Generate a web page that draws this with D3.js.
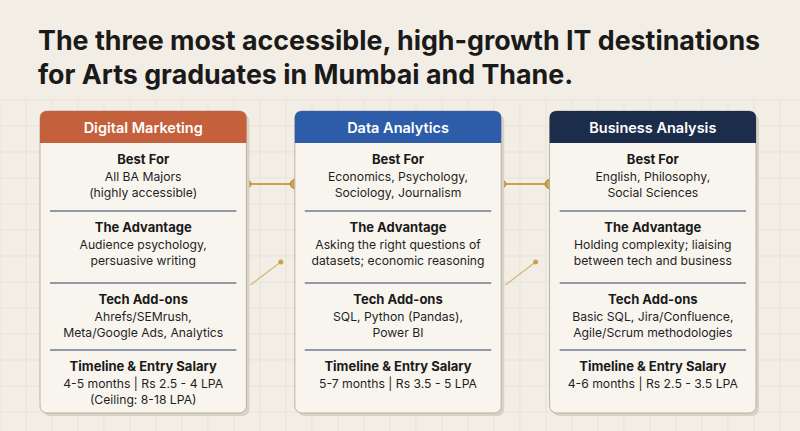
<!DOCTYPE html>
<html><head><meta charset="utf-8">
<script src="https://cdn.jsdelivr.net/npm/d3@7"></script>
<style>body{margin:0;background:#f2eee5;}svg{display:block;font-family:Inter,"Noto Sans",sans-serif;}</style>
</head><body>
<script>
// infographic data
const titleLines = ["The three most accessible, high-growth IT destinations", "for Arts graduates in Mumbai and Thane."];
const tracks = ["Digital Marketing", "Data Analytics", "Business Analysis"];
const headColors = ["#c4603c", "#2d5ca8", "#1c2c4b"];
const sections = ["Best For", "The Advantage", "Tech Add-ons", "Timeline & Entry Salary"];
const bodies = [
  [["All BA Majors", "(highly accessible)"], ["Audience psychology,", "persuasive writing"], ["Ahrefs/SEMrush,", "Meta/Google Ads, Analytics"], ["4-5 months | Rs 2.5 - 4 LPA", "(Ceiling: 8-18 LPA)"]],
  [["Economics, Psychology,", "Sociology, Journalism"], ["Asking the right questions of", "datasets; economic reasoning"], ["SQL, Python (Pandas),", "Power BI"], ["5-7 months | Rs 3.5 - 5 LPA"]],
  [["English, Philosophy,", "Social Sciences"], ["Holding complexity; liaising", "between tech and business"], ["Basic SQL, Jira/Confluence,", "Agile/Scrum methodologies"], ["4-6 months | Rs 2.5 - 3.5 LPA"]]
];

const width = 800, height = 431;
const svg = d3.select("body").append("svg").attr("width", width).attr("height", height);

// faint grid background
const grid = svg.append("g").attr("stroke", "#e9e3d7").attr("stroke-width", 1);
d3.range(0, width, 26).forEach(x => grid.append("line").attr("x1", x).attr("x2", x).attr("y1", 100).attr("y2", height));
d3.range(100, height, 26).forEach(y => grid.append("line").attr("x1", 0).attr("x2", width).attr("y1", y).attr("y2", y));

svg.selectAll(".title").data(titleLines).enter().append("text")
  .attr("x", 38).attr("y", (d, i) => 50 + i * 34)
  .attr("font-size", 26.8).attr("font-weight", 700).attr("fill", "#1a1a1a").text(d => d);

const x = d3.scaleBand().domain(tracks).range([40, 756]).paddingInner(0.19);
const cardTop = 111, headH = 32, cardBottom = 413;
const secY = d3.scaleOrdinal().domain(sections).range([143, 211, 283, 350]);

// connectors between cards
const conn = svg.append("g");
[[x(tracks[0]) + x.bandwidth(), x(tracks[1])], [x(tracks[1]) + x.bandwidth(), x(tracks[2])]].forEach(([a, b]) => {
  conn.append("line").attr("x1", a).attr("x2", b).attr("y1", 184).attr("y2", 184).attr("stroke", "#c9a24e").attr("stroke-width", 2);
  [a, b].forEach(cx => conn.append("circle").attr("cx", cx).attr("cy", 184).attr("r", 4.5).attr("fill", "#d1a445").attr("stroke", "#a9802e"));
  conn.append("line").attr("x1", a + 4).attr("x2", b - 14).attr("y1", 285).attr("y2", 262).attr("stroke", "#d4b57a").attr("stroke-width", 1.2);
  conn.append("circle").attr("cx", b - 14).attr("cy", 262).attr("r", 2.5).attr("fill", "#c9a24e");
});

const card = svg.selectAll(".card").data(tracks).enter().append("g").attr("class", "card")
  .attr("transform", d => `translate(${x(d)},0)`);
const w = x.bandwidth();

card.append("rect").attr("x", 3).attr("y", cardTop + 3).attr("width", w).attr("height", cardBottom - cardTop)
  .attr("rx", 7).attr("fill", "#d9d2c4");
card.append("rect").attr("y", cardTop).attr("width", w).attr("height", cardBottom - cardTop)
  .attr("rx", 7).attr("fill", "#f8f5ee").attr("stroke", "#b9b2a4");
card.append("path").attr("d", `M0,${cardTop + headH} V${cardTop + 7} Q0,${cardTop} 7,${cardTop} H${w - 7} Q${w},${cardTop} ${w},${cardTop + 7} V${cardTop + headH} Z`)
  .attr("fill", (d, i) => headColors[i]);
card.append("text").attr("x", w / 2).attr("y", cardTop + 22).attr("text-anchor", "middle")
  .attr("font-size", 14.5).attr("font-weight", 600).attr("fill", "#fff").text(d => d);

card.each(function(d, ci) {
  const g = d3.select(this);
  sections.forEach((s, si) => {
    const y0 = secY(s);
    if (si > 0) g.append("line").attr("x1", 10).attr("x2", w - 10).attr("y1", y0).attr("y2", y0)
      .attr("stroke", "#6f7c90").attr("stroke-width", 1.3);
    g.append("text").attr("x", w / 2).attr("y", y0 + 21).attr("text-anchor", "middle")
      .attr("font-size", 13).attr("font-weight", 700).attr("fill", "#1a1a1a").text(s);
    g.selectAll(null).data(bodies[ci][si]).enter().append("text")
      .attr("x", w / 2).attr("y", (t, k) => y0 + 38 + k * 15.5).attr("text-anchor", "middle")
      .attr("font-size", 12.2).attr("fill", "#1f1f1f").text(t => t);
  });
});
</script>
</body></html>
